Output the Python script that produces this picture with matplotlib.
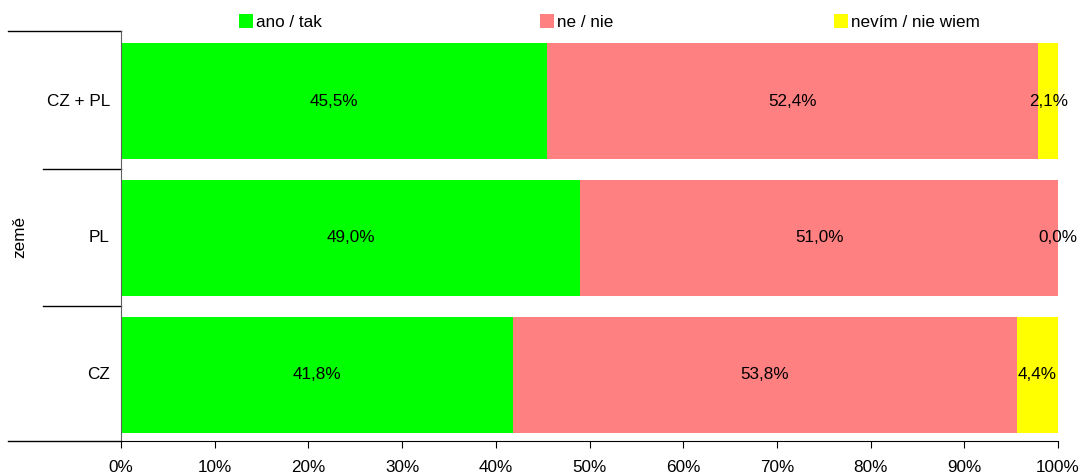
import matplotlib.pyplot as plt
import matplotlib as mpl
from matplotlib.patches import Patch
from matplotlib.lines import Line2D

mpl.rcParams.update({
    "font.family": ["Liberation Sans", "DejaVu Sans"],
    "font.size": 12.3,
})

# ---------------------------------------------------------------------------
# Data
# ---------------------------------------------------------------------------
countries = ["CZ", "PL", "CZ + PL"]
ano_tak = [41.8, 49.0, 45.5]
ne_nie = [53.8, 51.0, 52.4]
nevim = [4.4, 0.0, 2.1]

series_labels = ["ano / tak", "ne / nie", "nevím / nie wiem"]
series_colors = ["#00ff00", "#ff8080", "#ffff00"]
series_values = [ano_tak, ne_nie, nevim]


def fmt(v):
    return f"{v:.1f}".replace(".", ",") + "%"


fig = plt.figure(figsize=(10.81, 4.76), dpi=100)
ax = fig.add_axes([121 / 1081, 1 - 441 / 476, 937 / 1081, 410 / 476])

ypos = list(range(len(countries)))
left = [0.0] * len(countries)
for vals, color in zip(series_values, series_colors):
    ax.barh(ypos, vals, left=left, height=0.85, color=color, edgecolor="none")
    for y, v, l in zip(ypos, vals, left):
        ax.text(l + v / 2, y, fmt(v), ha="center", va="center")
    left = [a + b for a, b in zip(left, vals)]

ax.set_xlim(0, 100)
ax.set_ylim(-0.482, 2.511)
ax.set_xticks(range(0, 101, 10))
ax.set_xticklabels([f"{t}%" for t in range(0, 101, 10)])
ax.tick_params(axis="x", length=5, direction="out", pad=9)
ax.set_yticks([])
for y, name in zip(ypos, countries):
    ax.text(-0.012, y, name, transform=ax.get_yaxis_transform(),
            ha="right", va="center")

for s in ("top", "right"):
    ax.spines[s].set_visible(False)
ax.spines["left"].set_color("#606060")

# table-like separators on the left
x_axes = lambda px: (px - 121) / 937
for yb, x0 in [(-0.482, 8), (0.5, 43), (1.5, 43), (2.511, 8)]:
    ax.add_line(Line2D([x_axes(x0), 0], [yb, yb], color="black", lw=1.0,
                       transform=ax.get_yaxis_transform(), clip_on=False))

fig.text(20 / 1081, 1 - 237 / 476, "země", rotation=90,
         ha="center", va="center")

# legend entries
for label, color, xpx in zip(series_labels, series_colors, [239, 540, 834]):
    fig.legend(handles=[Patch(facecolor=color, edgecolor="none", label=label)],
               loc="center left", bbox_to_anchor=(xpx / 1081, 1 - 22 / 476),
               frameon=False, handlelength=0.8, handleheight=0.9,
               handletextpad=0.2, borderpad=0, borderaxespad=0)

fig.savefig("out.png", dpi=100)
